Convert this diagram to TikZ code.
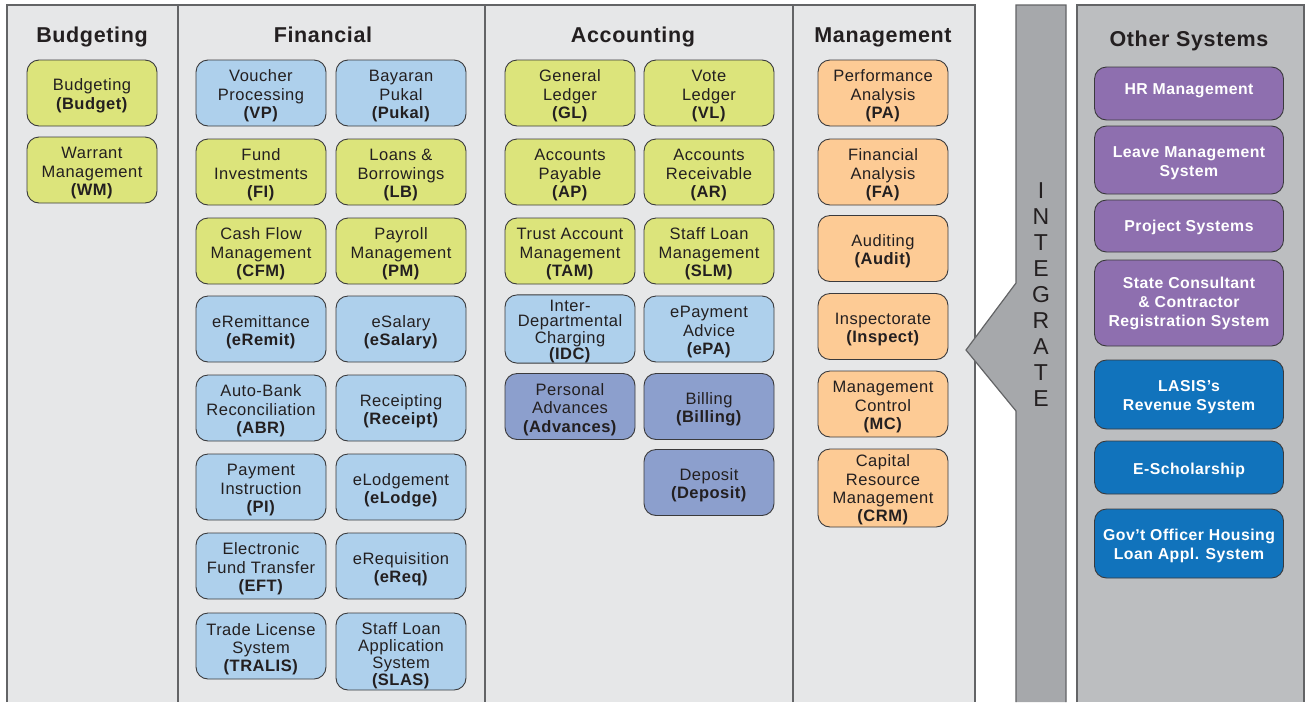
\documentclass[tikz,border=0pt]{standalone}
\usepackage{fontspec}
\setmainfont{Liberation Sans}[LetterSpace=3]
\definecolor{panelfill}{HTML}{E6E7E8}
\definecolor{otherfill}{HTML}{BCBEC0}
\definecolor{barfill}{HTML}{A6A8AB}
\definecolor{frameline}{HTML}{636466}
\definecolor{boxline}{HTML}{3A3A3C}
\definecolor{ink}{HTML}{231F20}
\definecolor{ygreen}{HTML}{DCE47B}
\definecolor{lblue}{HTML}{AED0EC}
\definecolor{slate}{HTML}{8C9FCD}
\definecolor{peach}{HTML}{FDCB95}
\definecolor{violet}{HTML}{8E6FAF}
\definecolor{deepblue}{HTML}{1173BC}
% struts: a tall first line pushes a box's text down, a deep last line lifts it
\newcommand\tallstrut[1]{\rule{0pt}{#1}}
\newcommand\deepstrut[1]{\rule[-#1]{0pt}{#1}}
% a module box whose text sits slightly below the box centre
\newcommand\sysnode[4]{\node[#1] (#2) at (#3) {\tallstrut{18pt}#4};}
\begin{document}
\begin{tikzpicture}[x=1pt,y=-1pt,
  sysbox/.style={draw=boxline, line width=0.9pt, rounded corners=12pt,
    minimum width=130pt, minimum height=66pt, align=center, inner sep=1pt,
    text=ink, font=\fontsize{16.5}{18.3}\selectfont},
  yg/.style={sysbox, fill=ygreen},
  lb/.style={sysbox, fill=lblue},
  sl/.style={sysbox, fill=slate},
  pc/.style={sysbox, fill=peach},
  otherbox/.style={sysbox, minimum width=189pt, text=white,
    font=\fontsize{15.8}{19}\selectfont\bfseries},
  vi/.style={otherbox, fill=violet},
  db/.style={otherbox, fill=deepblue},
  header/.style={anchor=base, text=ink, font=\fontsize{21.5}{24}\selectfont\bfseries},
]
\useasboundingbox (0,0) rectangle (1309,702);

% main panel with its four columns
\fill[panelfill] (7,5) rectangle (975,702);
\draw[frameline, line width=1.2pt] (7,702) -- (7,5) -- (975,5) -- (975,702);
\foreach \xd in {178,485,793}
  \draw[frameline, line width=1.4pt] (\xd,5) -- (\xd,702);

% other systems panel
\fill[otherfill] (1077,5) rectangle (1304,702);
\draw[frameline, line width=1.2pt] (1077,702) -- (1077,5) -- (1304,5) -- (1304,702);

% integration bar with its arrow
\draw[frameline, fill=barfill, line width=1.2pt]
  (1016,702) -- (1016,411) -- (966,350) -- (1016,283) -- (1016,5)
  -- (1066,5) -- (1066,702);
\node[text=ink, align=center, font=\fontsize{23}{25.9}\selectfont] (integrate)
  at (1041,294.5) {I\\N\\T\\E\\G\\R\\A\\T\\E};

% column headings
\node[header] (hbudget) at (92,42) {Budgeting};
\node[header] (hfin) at (323,42) {Financial};
\node[header] (hacc) at (633,42) {Accounting};
\node[header] (hman) at (883,42) {Management};
\node[header] (hother) at (1189,46) {Other Systems};

% budgeting
\sysnode{yg, font=\fontsize{16.5}{19.3}\selectfont}{budget}{92,93}{Budgeting\\\textbf{(Budget)}}
\sysnode{yg}{wm}{92,170}{Warrant\\Management\\\textbf{(WM)}}

% financial
\sysnode{lb}{vp}{261,93}{Voucher\\Processing\\\textbf{(VP)}}
\sysnode{lb}{pukal}{401,93}{Bayaran\\Pukal\\\textbf{(Pukal)}}
\sysnode{yg}{fi}{261,172}{Fund\\Investments\\\textbf{(FI)}}
\sysnode{yg}{lbw}{401,172}{Loans \&\\Borrowings\\\textbf{(LB)}}
\sysnode{yg}{cfm}{261,251}{Cash Flow\\Management\\\textbf{(CFM)}}
\sysnode{yg}{pm}{401,251}{Payroll\\Management\\\textbf{(PM)}}
\sysnode{lb}{eremit}{261,329}{eRemittance\\\textbf{(eRemit)}}
\sysnode{lb}{esalary}{401,329}{eSalary\\\textbf{(eSalary)}}
\sysnode{lb}{abr}{261,408}{Auto-Bank\\Reconciliation\\\textbf{(ABR)}}
\sysnode{lb}{receipt}{401,408}{Receipting\\\textbf{(Receipt)}}
\sysnode{lb}{pi}{261,487}{Payment\\Instruction\\\textbf{(PI)}}
\sysnode{lb}{elodge}{401,487}{eLodgement\\\textbf{(eLodge)}}
\sysnode{lb}{eft}{261,566}{Electronic\\Fund Transfer\\\textbf{(EFT)}}
\sysnode{lb}{ereq}{401,566}{eRequisition\\\textbf{(eReq)}}
\sysnode{lb}{tralis}{261,646}{Trade License\\System\\\textbf{(TRALIS)}}
\node[lb, minimum height=77pt, inner sep=0pt, font=\fontsize{16.5}{17}\selectfont] (slas) at (401,651.5)
  {\tallstrut{21pt}Staff Loan\\Application\\System\\\textbf{(SLAS)}};

% accounting
\sysnode{yg}{gl}{570,93}{General\\Ledger\\\textbf{(GL)}}
\sysnode{yg}{vl}{709,93}{Vote\\Ledger\\\textbf{(VL)}}
\sysnode{yg}{ap}{570,172}{Accounts\\Payable\\\textbf{(AP)}}
\sysnode{yg}{ar}{709,172}{Accounts\\Receivable\\\textbf{(AR)}}
\sysnode{yg}{tam}{570,251}{Trust Account\\Management\\\textbf{(TAM)}}
\sysnode{yg}{slm}{709,251}{Staff Loan\\Management\\\textbf{(SLM)}}
\node[lb, inner sep=0pt, font=\fontsize{16.5}{15}\selectfont] (idc) at (570,329)
  {\tallstrut{17pt}Inter-\\Departmental\\Charging\\\textbf{(IDC)}};
\sysnode{lb}{epa}{709,329}{ePayment\\Advice\\\textbf{(ePA)}}
\sysnode{sl}{adv}{570,406.5}{Personal\\Advances\\\textbf{(Advances)}}
\sysnode{sl}{billing}{709,406.5}{Billing\\\textbf{(Billing)}}
\sysnode{sl}{deposit}{709,482.5}{Deposit\\\textbf{(Deposit)}}

% management
\sysnode{pc}{pa}{883,93}{Performance\\Analysis\\\textbf{(PA)}}
\sysnode{pc}{fa}{883,172}{Financial\\Analysis\\\textbf{(FA)}}
\sysnode{pc}{audit}{883,248.5}{Auditing\\\textbf{(Audit)}}
\sysnode{pc}{inspect}{883,326.5}{Inspectorate\\\textbf{(Inspect)}}
\sysnode{pc}{mc}{883,404}{Management\\Control\\\textbf{(MC)}}
\node[pc, minimum height=78pt] (crm) at (883,488)
  {\tallstrut{16pt}Capital\\Resource\\Management\\\textbf{(CRM)}};

% other systems
\node[vi, minimum height=53pt] (hr) at (1189,93.5) {HR Management\deepstrut{9pt}};
\node[vi, minimum height=68pt] (leave) at (1189,160) {\tallstrut{17pt}Leave Management\\System};
\node[vi, minimum height=52pt] (project) at (1189,226) {\tallstrut{15pt}Project Systems};
\node[vi, minimum height=86pt] (state) at (1189,303)
  {State Consultant\\\& Contractor\\Registration System};
\node[db, minimum height=69pt] (lasis) at (1189,394.5) {\tallstrut{17pt}LASIS's\\Revenue System};
\node[db, minimum height=53pt] (escholar) at (1189,467.5) {\tallstrut{17pt}E-Scholarship};
\node[db, minimum height=69pt] (housing) at (1189,543.5)
  {\tallstrut{17pt}Gov't Officer Housing\\Loan Appl. System};
\end{tikzpicture}
\end{document}
